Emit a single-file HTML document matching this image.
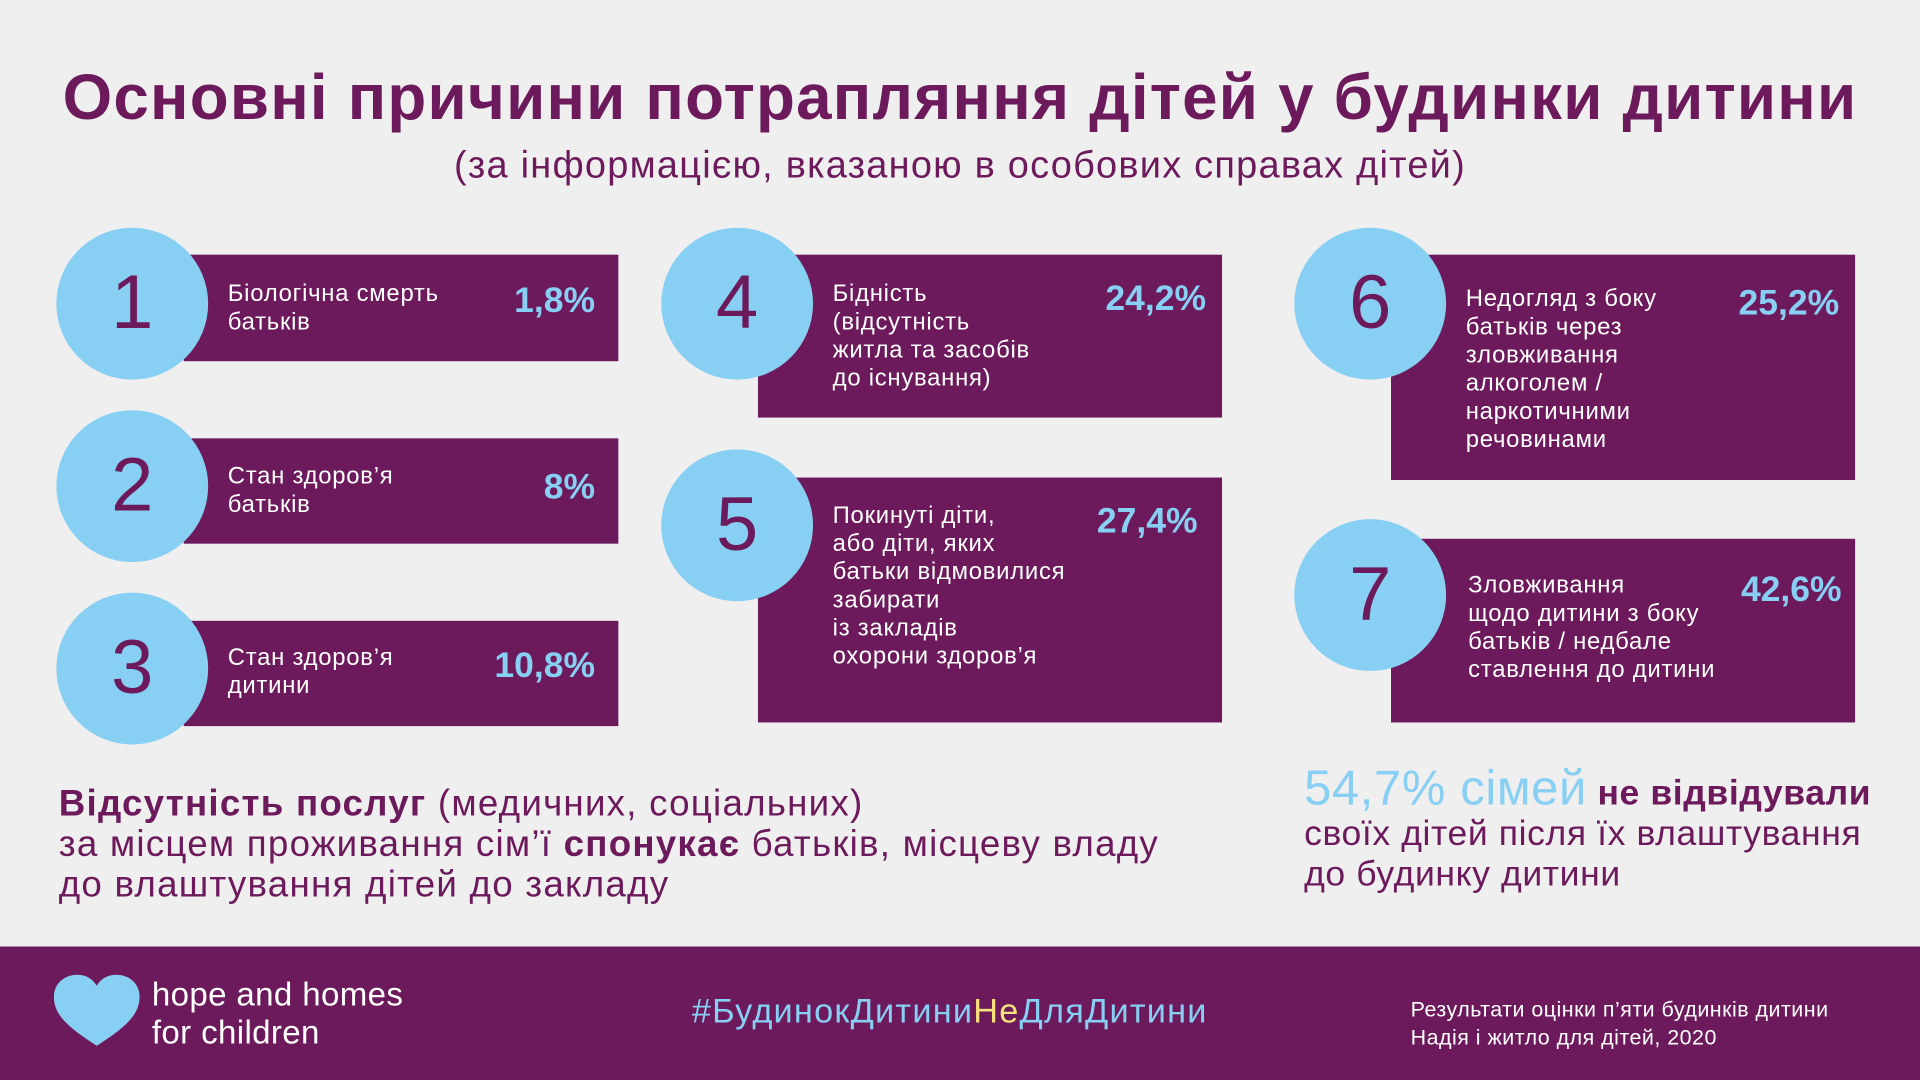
<!DOCTYPE html>
<html><head><meta charset="utf-8"><style>
*{margin:0;padding:0;box-sizing:border-box}
html,body{width:1920px;height:1080px;overflow:hidden;background:#efefef}
#s{position:absolute;left:0;top:0;width:1568px;height:882px;transform:scale(1.22449);transform-origin:0 0;font-family:"Liberation Sans","DejaVu Sans",sans-serif;color:#6c1a5b}
.a{position:absolute}
.box{position:absolute;background:#6c1a5b}
.c{position:absolute;width:124px;height:124px;border-radius:50%;background:#88cff4;color:#6c1a5b;font-size:62px;text-align:center;line-height:124px}
.t{position:absolute;color:#fff;font-size:19.5px;line-height:23px;letter-spacing:0.6px;white-space:nowrap}
.p{position:absolute;color:#88cff4;font-size:29px;font-weight:bold;text-align:right;width:200px}
</style></head><body><div id="s">
<div class="a" style="left:0;width:1568px;top:50px;text-align:center;font-size:52px;letter-spacing:1px;font-weight:bold;white-space:nowrap">Основні причини потрапляння дітей у будинки дитини</div>
<div class="a" style="left:0;width:1568px;top:117px;text-align:center;font-size:31px;letter-spacing:1px;white-space:nowrap">(за інформацією, вказаною в особових справах дітей)</div>

<div class="box" style="left:150px;top:208px;width:355px;height:87px"></div>
<div class="c" style="left:46px;top:186px">1</div>
<div class="t" style="left:186px;top:229px">Біологічна смерть<br>батьків</div>
<div class="p" style="left:286px;top:230px">1,8%</div>

<div class="box" style="left:150px;top:358px;width:355px;height:86px"></div>
<div class="c" style="left:46px;top:335px">2</div>
<div class="t" style="left:186px;top:378px">Стан здоров’я<br>батьків</div>
<div class="p" style="left:286px;top:382px">8%</div>

<div class="box" style="left:150px;top:507px;width:355px;height:86px"></div>
<div class="c" style="left:46px;top:484px">3</div>
<div class="t" style="left:186px;top:526px">Стан здоров’я<br>дитини</div>
<div class="p" style="left:286px;top:528px">10,8%</div>

<div class="box" style="left:619px;top:208px;width:379px;height:133px"></div>
<div class="c" style="left:540px;top:186px">4</div>
<div class="t" style="left:680px;top:229px">Бідність<br>(відсутність<br>житла та засобів<br>до існування)</div>
<div class="p" style="left:785px;top:228px">24,2%</div>

<div class="box" style="left:619px;top:390px;width:379px;height:200px"></div>
<div class="c" style="left:540px;top:367px">5</div>
<div class="t" style="left:680px;top:410px">Покинуті діти,<br>або діти, яких<br>батьки відмовилися<br>забирати<br>із закладів<br>охорони здоров’я</div>
<div class="p" style="left:778px;top:410px">27,4%</div>

<div class="box" style="left:1136px;top:208px;width:379px;height:184px"></div>
<div class="c" style="left:1057px;top:186px">6</div>
<div class="t" style="left:1197px;top:233px">Недогляд з боку<br>батьків через<br>зловживання<br>алкоголем /<br>наркотичними<br>речовинами</div>
<div class="p" style="left:1302px;top:232px">25,2%</div>

<div class="box" style="left:1136px;top:440px;width:379px;height:150px"></div>
<div class="c" style="left:1057px;top:424px">7</div>
<div class="t" style="left:1199px;top:467px">Зловживання<br>щодо дитини з боку<br>батьків / недбале<br>ставлення до дитини</div>
<div class="p" style="left:1304px;top:466px">42,6%</div>

<div class="a" style="left:48px;top:640px;font-size:30px;letter-spacing:1px;line-height:33px;white-space:nowrap"><b>Відсутність послуг</b> (медичних, соціальних)<br>за місцем проживання сім’ї <b>спонукає</b> батьків, місцеву владу<br>до влаштування дітей до закладу</div>
<div class="a" style="left:1065px;top:628px;font-size:29px;letter-spacing:0.5px;line-height:33px;white-space:nowrap"><span style="color:#88cff4;font-size:40px">54,7% сімей</span> <b>не відвідували</b><br>своїх дітей після їх влаштування<br>до будинку дитини</div>

<div class="a" style="left:0;top:773px;width:1568px;height:109px;background:#6c1a5b"></div>
<svg class="a" style="left:44px;top:796px" width="70" height="60" viewBox="0 0 70 60"><path d="M35 58 C10 42 0 32 0 18 C0 7 9 0 19 0 C27 0 32 4 35 9 C38 4 43 0 51 0 C61 0 70 7 70 18 C70 32 60 42 35 58Z" fill="#88cff4"/></svg>
<div class="a" style="left:124px;top:797px;color:#fff;font-size:27px;letter-spacing:0.3px;line-height:31px">hope and homes<br>for children</div>
<div class="a" style="left:565px;top:810px;color:#88cff4;font-size:28px;letter-spacing:1px;white-space:nowrap">#БудинокДитини<span style="color:#f6e27a">Не</span>ДляДитини</div>
<div class="a" style="left:1152px;top:813px;color:#fff;font-size:17.5px;letter-spacing:0.4px;line-height:23px;white-space:nowrap">Результати оцінки п’яти будинків дитини<br>Надія і житло для дітей, 2020</div>
</div></body></html>
